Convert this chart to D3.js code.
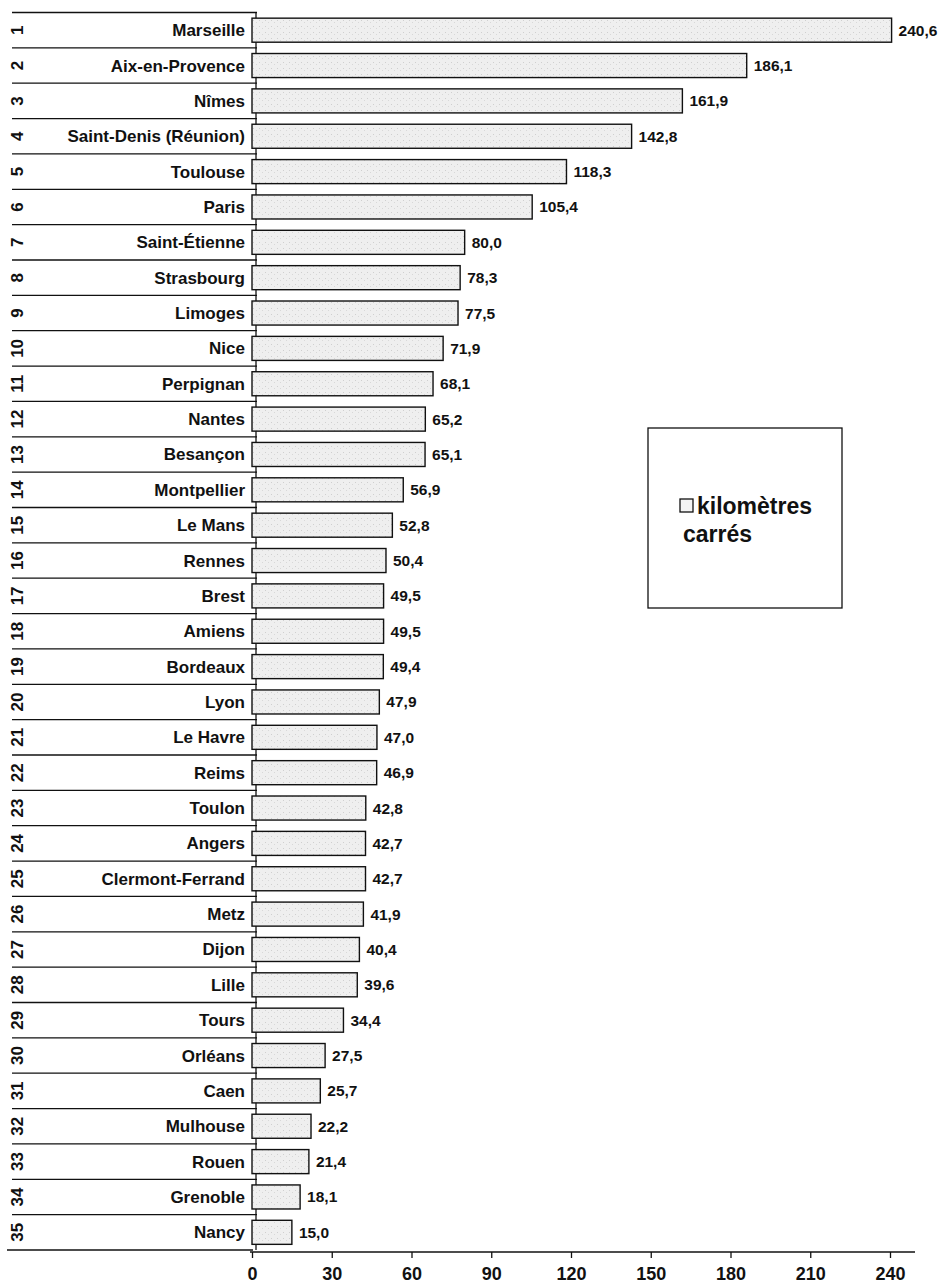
<!DOCTYPE html>
<html><head><meta charset="utf-8">
<script src="https://cdn.jsdelivr.net/npm/d3@7"></script>
<style>body{margin:0;background:#fff}svg{display:block}text{font-family:"Liberation Sans",Arial,Helvetica,sans-serif;font-weight:bold;fill:#111}</style>
</head><body>
<script>
const ranks = d3.range(1, 36);
const cities = ["Marseille","Aix-en-Provence","Nîmes","Saint-Denis (Réunion)","Toulouse","Paris","Saint-Étienne","Strasbourg","Limoges","Nice","Perpignan","Nantes","Besançon","Montpellier","Le Mans","Rennes","Brest","Amiens","Bordeaux","Lyon","Le Havre","Reims","Toulon","Angers","Clermont-Ferrand","Metz","Dijon","Lille","Tours","Orléans","Caen","Mulhouse","Rouen","Grenoble","Nancy"];
const areas = [240.6,186.1,161.9,142.8,118.3,105.4,80.0,78.3,77.5,71.9,68.1,65.2,65.1,56.9,52.8,50.4,49.5,49.5,49.4,47.9,47.0,46.9,42.8,42.7,42.7,41.9,40.4,39.6,34.4,27.5,25.7,22.2,21.4,18.1,15.0];
const tickValues = [0,30,60,90,120,150,180,210,240];
const legendLines = ["kilomètres","carrés"];

const W = 949, H = 1286;
const svg = d3.select("body").append("svg").attr("width", W).attr("height", H);

const defs = svg.append("defs");
const pat = defs.append("pattern").attr("id","stip").attr("width",6).attr("height",6).attr("patternUnits","userSpaceOnUse");
pat.append("rect").attr("width",6).attr("height",6).attr("fill","#efefef");
pat.append("rect").attr("x",1).attr("y",2).attr("width",1).attr("height",1).attr("fill","#cfcfcf");
pat.append("rect").attr("x",4).attr("y",4).attr("width",1).attr("height",1).attr("fill","#d8d8d8");

const x = d3.scaleLinear().domain([0, 240]).range([252, 890]);
const y = d3.scaleBand().domain(cities).range([12.5, 1250]).paddingInner(0.32).paddingOuter(0.16);
const row = d3.scaleBand().domain(cities).range([12.5, 1250]);

// table lines
svg.append("g").selectAll("line").data(cities).join("line")
  .attr("x1", 12).attr("x2", 257)
  .attr("y1", d => row(d)).attr("y2", d => row(d))
  .attr("stroke", "#111").attr("stroke-width", 1.3);
svg.append("line").attr("x1", 7).attr("x2", 253).attr("y1", 1250).attr("y2", 1250)
  .attr("stroke", "#111").attr("stroke-width", 1.5);
svg.append("line").attr("x1", 256).attr("x2", 256).attr("y1", 12.5).attr("y2", 1250)
  .attr("stroke", "#111").attr("stroke-width", 1.3);

// rank numbers (rotated)
svg.append("g").selectAll("text").data(cities).join("text")
  .attr("transform", (d, i) => `translate(23,${row(d) + row.bandwidth()/2}) rotate(-90)`)
  .attr("text-anchor", "middle").attr("font-size", 17)
  .text((d, i) => ranks[i]);

// city names
svg.append("g").selectAll("text").data(cities).join("text")
  .attr("x", 245).attr("y", d => row(d) + row.bandwidth()/2 + 6)
  .attr("text-anchor", "end").attr("font-size", 17)
  .text(d => d);

// bars
svg.append("g").selectAll("rect").data(cities).join("rect")
  .attr("x", x(0)).attr("y", d => y(d))
  .attr("width", (d, i) => x(areas[i]) - x(0))
  .attr("height", y.bandwidth())
  .attr("fill", "url(#stip)").attr("stroke", "#111").attr("stroke-width", 1.4);

// value labels
svg.append("g").selectAll("text").data(cities).join("text")
  .attr("x", (d, i) => x(areas[i]) + 7)
  .attr("y", d => y(d) + y.bandwidth()/2 + 5.5)
  .attr("font-size", 15.5)
  .text((d, i) => areas[i].toFixed(1).replace(".", ","));

// axis
const ax = svg.append("g").attr("transform", "translate(0,1252)")
  .call(d3.axisBottom(x).tickValues(tickValues).tickSize(6).tickPadding(11).tickFormat(d => d));
ax.select(".domain").remove();
ax.selectAll(".tick line").attr("stroke", "#111").attr("stroke-width", 1.3);
ax.selectAll(".tick text").attr("font-size", 18).attr("dy", "0.6em")
  .attr("font-family", '"Liberation Sans",Arial,sans-serif').attr("font-weight","bold").attr("fill","#111");
svg.append("line").attr("x1", 250).attr("x2", 915).attr("y1", 1252).attr("y2", 1252)
  .attr("stroke", "#111").attr("stroke-width", 1.5);

// legend
const lg = svg.append("g");
lg.append("rect").attr("x", 648).attr("y", 428).attr("width", 194).attr("height", 180)
  .attr("fill", "none").attr("stroke", "#111").attr("stroke-width", 1.3);
lg.append("rect").attr("x", 680).attr("y", 499).attr("width", 13).attr("height", 13)
  .attr("fill", "#f4f4f4").attr("stroke", "#111").attr("stroke-width", 1.3);
lg.append("text").attr("x", 697).attr("y", 514).attr("font-size", 23).text(legendLines[0]);
lg.append("text").attr("x", 683).attr("y", 542).attr("font-size", 23).text(legendLines[1]);
</script>
</body></html>
